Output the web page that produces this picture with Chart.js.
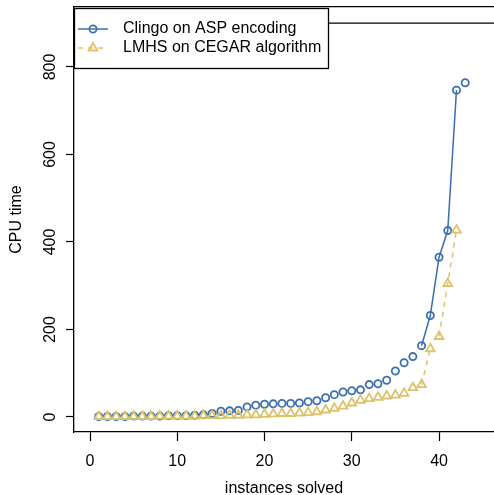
<!DOCTYPE html>
<html>
<head>
<meta charset="utf-8">
<title>CPU time per instances solved</title>
<script src="https://cdn.jsdelivr.net/npm/chart.js@4/dist/chart.umd.min.js"></script>
<style>
  html, body { margin: 0; padding: 0; background: #fff; }
  canvas { display: block; }
</style>
</head>
<body>
<canvas id="chart" width="494" height="495"></canvas>
<script>
// CPU time of the n-th solved instance (sorted), one value per instance
const clingoTimes = [1, 1, 1, 1, 2, 2, 2, 2, 3, 3, 3, 4, 5, 8, 13, 14, 15, 23, 27, 29,
                     30, 31, 31, 32, 35, 37, 44, 51, 57, 60, 62, 74, 76, 84, 105, 124, 138, 163, 232, 365,
                     426, 747, 764];
const lmhsTimes = [1, 1, 1, 1, 1, 1, 1, 2, 2, 2, 2, 2, 3, 3, 3, 4, 4, 5, 5, 6,
                   7, 8, 8, 9, 10, 12, 16, 20, 25, 32, 38, 42, 45, 48, 50, 54, 67, 74, 156, 184,
                   305, 427];
const timeLimit = 900;
const xTicks = [0, 10, 20, 30, 40];
const yTicks = [0, 200, 400, 600, 800];
const seriesNames = ['Clingo on ASP encoding', 'LMHS on CEGAR algorithm'];

const BLUE = '#3c6fae';
const GOLD = '#dcc36a';
const FONT = '"Liberation Sans", Arial, Helvetica, sans-serif';

const toPoints = arr => arr.map((v, i) => ({ x: i + 1, y: v }));

// like R's type="b": short hops between markers get no connecting line
const gapColor = color => ctx => {
  const dx = ctx.p1.x - ctx.p0.x, dy = ctx.p1.y - ctx.p0.y;
  return Math.hypot(dx, dy) < 16 ? 'rgba(0,0,0,0)' : color;
};

// keep the plot box fixed: no extra room for overhanging tick labels
const fixSize = (w, h) => s => {
  if (w !== null) s.width = w;
  if (h !== null) s.height = h;
  s.paddingTop = s.paddingBottom = s.paddingLeft = s.paddingRight = 0;
};

function drawMarker(c, style, x, y, color) {
  c.save();
  c.strokeStyle = color;
  c.lineWidth = 1.8;
  c.setLineDash([]);
  c.beginPath();
  if (style === 'circle') {
    c.arc(x, y, 3.6, 0, Math.PI * 2);
  } else {
    const r = 5;
    c.moveTo(x, y - r);
    c.lineTo(x + r * Math.sin(Math.PI / 3), y + r / 2);
    c.lineTo(x - r * Math.sin(Math.PI / 3), y + r / 2);
    c.closePath();
  }
  c.stroke();
  c.restore();
}

const boxLegend = {
  id: 'boxLegend',
  afterDraw(chart) {
    const c = chart.ctx;
    const left = 74, top = 8, w = 254, h = 60;
    c.save();
    c.fillStyle = '#fff';
    c.fillRect(left, top, w, h);
    c.strokeStyle = '#000';
    c.lineWidth = 1.3;
    c.strokeRect(left + 0.5, top + 0.5, w, h);

    const rows = [
      { y: 29, color: BLUE, dash: [], style: 'circle' },
      { y: 48, color: GOLD, dash: [5, 5], style: 'triangle' }
    ];
    rows.forEach((r, i) => {
      c.strokeStyle = r.color;
      c.lineWidth = 1.5;
      c.setLineDash(r.dash);
      c.beginPath();
      c.moveTo(78, r.y);
      c.lineTo(108, r.y);
      c.stroke();
      drawMarker(c, r.style, 93, r.y, r.color);
      c.fillStyle = '#000';
      c.font = '16px ' + FONT;
      c.textBaseline = 'middle';
      c.textAlign = 'left';
      c.fillText(seriesNames[i], 123, r.y);
    });
    c.restore();
  }
};

new Chart(document.getElementById('chart'), {
  type: 'line',
  data: {
    datasets: [
      {
        label: seriesNames[0],
        data: toPoints(clingoTimes),
        borderColor: BLUE,
        borderWidth: 1.5,
        pointStyle: 'circle',
        pointRadius: 3.6,
        pointBorderWidth: 1.8,
        pointBorderColor: BLUE,
        pointBackgroundColor: 'rgba(0,0,0,0)',
        segment: { borderColor: gapColor(BLUE) },
        order: 1
      },
      {
        label: seriesNames[1],
        data: toPoints(lmhsTimes),
        borderColor: GOLD,
        borderWidth: 1.5,
        borderDash: [5, 5],
        pointStyle: 'triangle',
        pointRadius: 5,
        pointBorderWidth: 1.8,
        pointBorderColor: GOLD,
        pointBackgroundColor: 'rgba(0,0,0,0)',
        segment: { borderColor: gapColor(GOLD) },
        order: 0
      },
      {
        label: 'time limit',
        data: [{ x: -10, y: timeLimit }, { x: 60, y: timeLimit }],
        borderColor: '#000',
        borderWidth: 1.3,
        pointRadius: 0,
        order: 2
      }
    ]
  },
  options: {
    responsive: false,
    animation: false,
    devicePixelRatio: 1,
    layout: { autoPadding: false, padding: { top: 7, right: 0, bottom: 0, left: 0 } },
    plugins: {
      legend: { display: false },
      tooltip: { enabled: false }
    },
    scales: {
      x: {
        type: 'linear',
        position: 'bottom',
        min: -1.834,
        max: 46.3,
        afterBuildTicks: s => { s.ticks = xTicks.map(v => ({ value: v })); },
        afterFit: fixSize(null, 63),
        grid: { drawOnChartArea: false, drawTicks: true, tickLength: 9, tickColor: '#000', tickWidth: 1.2 },
        border: { display: true, color: '#000', width: 1.3 },
        ticks: { color: '#000', font: { family: FONT, size: 16 }, padding: 11, maxRotation: 0 },
        title: {
          display: true,
          text: 'instances solved',
          color: '#000',
          font: { family: FONT, size: 16 },
          padding: { top: 0, bottom: -3 }
        }
      },
      xTop: {
        type: 'linear',
        position: 'top',
        min: -1.834,
        max: 46.3,
        afterBuildTicks: s => { s.ticks = xTicks.map(v => ({ value: v })); },
        afterFit: fixSize(null, 0),
        grid: { drawOnChartArea: false, drawTicks: false },
        border: { display: true, color: '#000', width: 1.3 },
        ticks: { display: false }
      },
      y: {
        type: 'linear',
        min: -34.3,
        max: 937,
        afterBuildTicks: s => { s.ticks = yTicks.map(v => ({ value: v })); },
        afterFit: fixSize(74, null),
        grid: { drawOnChartArea: false, drawTicks: true, tickLength: 8, tickColor: '#000', tickWidth: 1.2 },
        border: { display: true, color: '#000', width: 1.3 },
        ticks: {
          color: '#000',
          font: { family: FONT, size: 16 },
          minRotation: 90,
          maxRotation: 90,
          crossAlign: 'center',
          padding: 2
        },
        title: {
          display: true,
          text: 'CPU time',
          color: '#000',
          font: { family: FONT, size: 16 },
          padding: { top: 7, bottom: 0 }
        }
      }
    }
  },
  plugins: [boxLegend]
});
</script>
</body>
</html>
